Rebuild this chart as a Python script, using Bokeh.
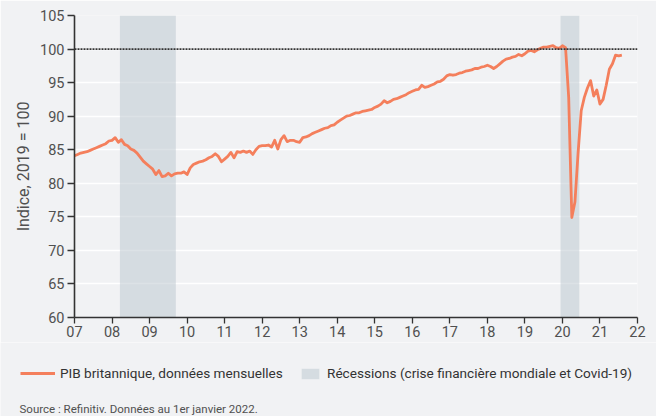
from bokeh.plotting import figure
from bokeh.layouts import column
from bokeh.models import (Range1d, FixedTicker, Span, Legend, LegendItem, Title,
                          Label, ColumnDataSource)
from bokeh.embed import file_html
from bokeh.resources import INLINE

# ---------------- data ----------------
start_year = 2007
gdp_2007 = [84.1, 84.3, 84.5, 84.6, 84.7, 84.9, 85.1, 85.3, 85.5, 85.7, 85.9, 86.3]
gdp_2008 = [86.4, 86.8, 86.1, 86.5, 85.8, 85.6, 85.1, 84.9, 84.5, 83.9, 83.3, 82.9]
gdp_2009 = [82.5, 82.1, 81.3, 81.9, 81.0, 81.1, 81.5, 81.1, 81.4, 81.5, 81.5, 81.7]
gdp_2010 = [81.3, 82.3, 82.8, 83.0, 83.2, 83.3, 83.5, 83.8, 84.0, 84.4, 84.0, 83.2]
gdp_2011 = [83.6, 84.0, 84.6, 83.8, 84.7, 84.6, 84.8, 84.6, 84.8, 84.3, 85.0, 85.5]
gdp_2012 = [85.6, 85.6, 85.7, 85.4, 86.4, 85.1, 86.5, 87.1, 86.2, 86.4, 86.4, 86.2]
gdp_2013 = [86.1, 86.8, 86.9, 87.1, 87.4, 87.6, 87.8, 88.0, 88.2, 88.3, 88.6, 88.7]
gdp_2014 = [89.1, 89.4, 89.7, 90.0, 90.1, 90.3, 90.5, 90.5, 90.7, 90.8, 90.9, 91.0]
gdp_2015 = [91.3, 91.5, 91.8, 92.3, 92.0, 92.2, 92.5, 92.6, 92.8, 93.0, 93.2, 93.5]
gdp_2016 = [93.7, 93.9, 94.0, 94.6, 94.3, 94.4, 94.6, 94.8, 95.1, 95.2, 95.5, 96.0]
gdp_2017 = [96.2, 96.1, 96.2, 96.4, 96.5, 96.7, 96.8, 96.9, 97.1, 97.1, 97.3, 97.4]
gdp_2018 = [97.6, 97.4, 97.1, 97.4, 97.8, 98.2, 98.5, 98.6, 98.8, 98.9, 99.2, 99.0]
gdp_2019 = [99.3, 99.7, 99.8, 99.6, 99.9, 100.1, 100.3, 100.3, 100.4, 100.5, 100.2, 100.1]
gdp_2020 = [100.5, 100.2, 92.8, 74.9, 77.2, 84.5, 90.8, 92.8, 94.2, 95.3, 93.0, 93.9]
gdp_2021 = [91.8, 92.5, 94.6, 97.0, 97.8, 99.1, 99.0, 99.1]

recession_starts = [2008.21, 2019.95]
recession_ends = [2009.70, 2020.45]

x_ticks = list(range(2007, 2023))
x_tick_labels = ["07", "08", "09", "10", "11", "12", "13", "14", "15",
                 "16", "17", "18", "19", "20", "21", "22"]
y_ticks = [60, 65, 70, 75, 80, 85, 90, 95, 100, 105]
reference_level = 100

series_label = "PIB britannique, données mensuelles"
recession_label = "Récessions (crise financière mondiale et Covid-19)"
y_title = "Indice, 2019 = 100"
source_text = "Source : Refinitiv. Données au 1er janvier 2022."

# ---------------- build ----------------
yearly = [gdp_2007, gdp_2008, gdp_2009, gdp_2010, gdp_2011, gdp_2012, gdp_2013,
          gdp_2014, gdp_2015, gdp_2016, gdp_2017, gdp_2018, gdp_2019, gdp_2020,
          gdp_2021]
dates, values = [], []
for i, yr in enumerate(yearly):
    for m, v in enumerate(yr):
        dates.append(start_year + i + m / 12.0)
        values.append(v)

BG = "#f1f2f4"
LINE = "#f47f5c"
BAND = "#b9c6cd"
FONT = "Roboto"
TXT = "#505050"
DARK = "#333333"

W = 656
TOP_H = 342
BOTTOM_H = 416 - TOP_H

p = figure(frame_width=563, frame_height=302,
           min_border_left=74, min_border_right=19, min_border_top=15,
           min_border_bottom=25,
           x_range=Range1d(x_ticks[0], x_ticks[-1]),
           y_range=Range1d(y_ticks[0], y_ticks[-1]),
           output_backend="svg", toolbar_location=None)
p.frame_align = False
p.background_fill_color = BG
p.border_fill_color = BG
p.outline_line_color = None

p.xgrid.grid_line_color = None
p.ygrid.grid_line_color = "white"
p.ygrid.grid_line_width = 1.5

for ax in (p.xaxis[0], p.yaxis[0]):
    ax.axis_line_color = DARK
    ax.axis_line_width = 1.6
    ax.major_tick_line_color = DARK
    ax.major_tick_line_width = 1.3
    ax.major_tick_in = 0
    ax.minor_tick_line_color = None
    ax.major_label_text_font = FONT
    ax.major_label_text_font_size = "14.5px"
    ax.major_label_text_color = TXT

p.xaxis.ticker = FixedTicker(ticks=x_ticks)
p.xaxis.major_label_overrides = {t: l for t, l in zip(x_ticks, x_tick_labels)}
p.xaxis.major_tick_out = 6
p.xaxis.major_label_standoff = 2
p.yaxis.ticker = FixedTicker(ticks=y_ticks)
p.yaxis.major_tick_out = 7
p.yaxis.major_label_standoff = 3

rec_src = ColumnDataSource(dict(left=recession_starts, right=recession_ends))
p.quad(left="left", right="right", bottom=y_ticks[0], top=y_ticks[-1],
       source=rec_src, fill_color=BAND, fill_alpha=0.5, line_color=None)

p.add_layout(Span(location=reference_level, dimension="width",
                  line_color=DARK, line_width=1.8, line_dash="2 1"))

gdp_src = ColumnDataSource(dict(date=dates, gdp=values))
p.line("date", "gdp", source=gdp_src, line_color=LINE, line_width=2.8,
       line_join="round")

p.add_layout(Title(text=y_title, align="center", offset=-23,
                   text_font=FONT, text_font_size="16px",
                   text_font_style="normal", text_color=TXT, standoff=10),
             "left")

# ---------------- legend + source strip ----------------
q = figure(width=W, height=BOTTOM_H, x_range=Range1d(0, W),
           y_range=Range1d(0, BOTTOM_H), min_border=0,
           x_axis_location=None, y_axis_location=None,
           output_backend="svg", toolbar_location=None)
q.frame_align = False
q.background_fill_color = BG
q.border_fill_color = BG
q.outline_line_color = None
q.grid.grid_line_color = None

# legend proxies: same data, lying outside this strip's visible range
leg_line = q.line("date", "gdp", source=gdp_src, line_color=LINE, line_width=3)
leg_band = q.quad(left="left", right="right", bottom=y_ticks[0],
                  top=y_ticks[-1], source=rec_src, fill_color=BAND,
                  fill_alpha=0.5, line_color=None)

leg1 = Legend(items=[LegendItem(label=series_label, renderers=[leg_line])],
              location=(20, 33), orientation="horizontal",
              glyph_width=35, glyph_height=20, label_standoff=5,
              padding=0, margin=0, border_line_alpha=0,
              background_fill_alpha=0,
              label_text_font=FONT, label_text_font_size="13.6px",
              label_text_color=DARK)
leg2 = Legend(items=[LegendItem(label=recession_label, renderers=[leg_band])],
              location=(299, 35), orientation="horizontal",
              glyph_width=22, glyph_height=13, label_standoff=6,
              padding=0, margin=0, border_line_alpha=0,
              background_fill_alpha=0,
              label_text_font=FONT, label_text_font_size="13.6px",
              label_text_color=DARK)
q.add_layout(leg1, "center")
q.add_layout(leg2, "center")

q.add_layout(Label(x=19, y=8, x_units="screen", y_units="screen",
                   text=source_text, text_align="left",
                   text_baseline="middle", text_font=FONT,
                   text_font_size="11.5px", text_color=TXT))

layout = column(p, q, spacing=0)
open("out.html", "w").write(file_html(layout, INLINE))
